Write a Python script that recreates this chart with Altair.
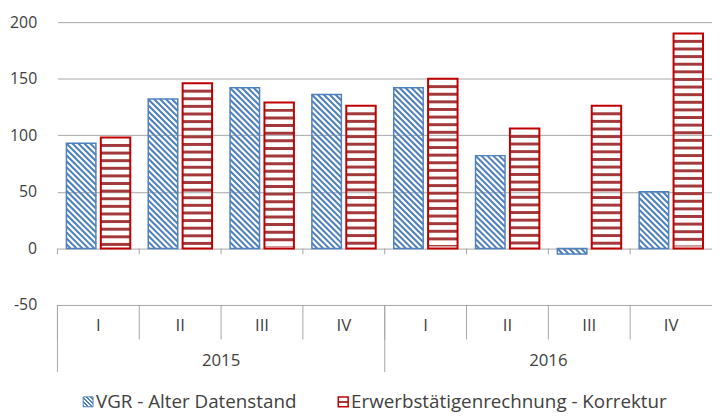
import altair as alt
import pandas as pd

# ---- data ----
quarters = ["I", "II", "III", "IV", "I", "II", "III", "IV"]
years = ["2015", "2016"]
vgr = [93, 132, 142, 136, 142, 82, -5, 50]
erw = [98, 146, 129, 126, 150, 106, 126, 190]
y_ticks = [-50, 0, 50, 100, 150, 200]
legend_labels = ["VGR - Alter Datenstand", "Erwerbstätigenrechnung - Korrektur"]

# ---- layout constants ----
W = 662
H = 286
KX = W / 8.0
KY = H / 250.0
FONT = "Open Sans"
TXT = "#404040"
GRID = "#a6a6a6"
BLUE = "#4f81bd"
RED = "#c00000"
DARKRED = "#a3393b"
BW = 0.36 * KX

bars = pd.DataFrame({"idx": list(range(8)), "q": quarters, "vgr": vgr, "erw": erw})
bounds = pd.DataFrame({"b": list(range(8))})
ybounds = pd.DataFrame({"b": [0, 4]})
yrs = pd.DataFrame({"year": years, "pos": [2, 6]})

xs = alt.Scale(domain=[0, 8], nice=False, zero=False)
ys = alt.Scale(domain=[-50, 200], nice=False, zero=False)
YAX = alt.Axis(
    values=y_ticks, grid=True, gridColor=GRID, gridWidth=1,
    domain=False, ticks=False, labelPadding=21, title=None,
    labelFont=FONT, labelFontSize=16, labelColor=TXT,
    labelExpr="'' + datum.value",
)


def xenc(f):
    return alt.X(f, type="quantitative", scale=xs, axis=None)


def yenc(f):
    return alt.Y(f, type="quantitative", scale=ys, axis=YAX)


base = alt.Chart(bars)

# blue diagonal stripes
blue_str = (
    base.transform_calculate(
        x0="datum.idx + 0.11",
        top="max(datum.vgr, 0)",
        hp=f"abs(datum.vgr) * {KY}",
        c=f"sequence({-BW}, abs(datum.vgr) * {KY}, 6)",
    )
    .transform_flatten(["c"])
    .transform_calculate(ua="max(0, -datum.c)", ub=f"min({BW}, datum.hp - datum.c)")
    .transform_filter("datum.ub > datum.ua")
    .transform_calculate(
        sx=f"datum.x0 + datum.ua / {KX}",
        sx2=f"datum.x0 + datum.ub / {KX}",
        sy=f"datum.top - (datum.ua + datum.c) / {KY}",
        sy2=f"datum.top - (datum.ub + datum.c) / {KY}",
    )
    .mark_rule(stroke=BLUE, strokeWidth=2.1)
    .encode(x=xenc("sx"), x2="sx2:Q", y=yenc("sy"), y2="sy2:Q")
)

blue_out = (
    base.transform_calculate(
        x0="datum.idx + 0.11", x1="datum.idx + 0.47",
        top="max(datum.vgr, 0)", bot="min(datum.vgr, 0)",
    )
    .mark_rect(fillOpacity=0, stroke=BLUE, strokeWidth=1.5)
    .encode(x=xenc("x0"), x2="x1:Q", y=yenc("top"), y2="bot:Q")
)

# red horizontal stripes
red_str = (
    base.transform_calculate(
        x0="datum.idx + 0.53", x1="datum.idx + 0.89",
        top="max(datum.erw, 0)",
        hp=f"abs(datum.erw) * {KY}",
        s=f"sequence(6.5, abs(datum.erw) * {KY} - 2, 7.7)",
    )
    .transform_flatten(["s"])
    .transform_calculate(
        sy=f"datum.top - datum.s / {KY}",
        sy2=f"datum.top - min(datum.s + 3, datum.hp - 2) / {KY}",
    )
    .mark_rect(color=DARKRED)
    .encode(x=xenc("x0"), x2="x1:Q", y=yenc("sy"), y2="sy2:Q")
)

red_out = (
    base.transform_calculate(
        x0="datum.idx + 0.53", x1="datum.idx + 0.89",
        top="max(datum.erw, 0)", bot="min(datum.erw, 0)",
    )
    .mark_rect(fillOpacity=0, stroke=RED, strokeWidth=2)
    .encode(x=xenc("x0"), x2="x1:Q", y=yenc("top"), y2="bot:Q")
)

# ticks on the zero line
zero_ticks = (
    alt.Chart(bounds)
    .transform_calculate(z0="0", z1=f"-6 / {KY}")
    .mark_rule(stroke=GRID, strokeWidth=1)
    .encode(x=xenc("b"), y=yenc("z0"), y2="z1:Q")
)

# category table lines
q_lines = (
    alt.Chart(bounds)
    .mark_rule(stroke=GRID, strokeWidth=1)
    .encode(x=xenc("b"), y=alt.value(H), y2=alt.value(H + 35))
)
y_lines = (
    alt.Chart(ybounds)
    .mark_rule(stroke=GRID, strokeWidth=1)
    .encode(x=xenc("b"), y=alt.value(H), y2=alt.value(H + 68))
)

q_text = (
    base.transform_calculate(pos="datum.idx + 0.5")
    .mark_text(font=FONT, fontSize=17, color=TXT, baseline="middle", align="center")
    .encode(x=xenc("pos"), y=alt.value(H + 21), text="q:N")
)
y_text = (
    alt.Chart(yrs)
    .mark_text(font=FONT, fontSize=17, color=TXT, baseline="middle", align="center")
    .encode(x=xenc("pos"), y=alt.value(H + 57), text="year:N")
)

# legend
blue_stops = []
n = 5
for i in range(n):
    a = i / n
    b = (i + 0.5) / n
    c = (i + 1) / n
    blue_stops += [
        alt.GradientStop(color=BLUE, offset=a),
        alt.GradientStop(color=BLUE, offset=b),
        alt.GradientStop(color="white", offset=b),
        alt.GradientStop(color="white", offset=c),
    ]
blue_grad = alt.LinearGradient(gradient="linear", x1=0, y1=1, x2=1, y2=0, stops=blue_stops)
red_grad = alt.LinearGradient(
    gradient="linear", x1=0, y1=0, x2=0, y2=1,
    stops=[
        alt.GradientStop(color="white", offset=0),
        alt.GradientStop(color="white", offset=0.38),
        alt.GradientStop(color=DARKRED, offset=0.38),
        alt.GradientStop(color=DARKRED, offset=0.62),
        alt.GradientStop(color="white", offset=0.62),
        alt.GradientStop(color="white", offset=1),
    ],
)

LY = H + 98
leg_df = pd.DataFrame({"label": legend_labels, "k": [0, 1]})
leg_blue_sym = (
    alt.Chart(leg_df).transform_filter("datum.k == 0")
    .mark_rect(fill=blue_grad, stroke=BLUE, strokeWidth=1)
    .encode(x=alt.value(26), x2=alt.value(36), y=alt.value(LY - 5), y2=alt.value(LY + 5))
)
leg_red_sym = (
    alt.Chart(leg_df).transform_filter("datum.k == 1")
    .mark_rect(fill=red_grad, stroke=RED, strokeWidth=1.5)
    .encode(x=alt.value(284), x2=alt.value(294), y=alt.value(LY - 5), y2=alt.value(LY + 5))
)
leg_blue_txt = (
    alt.Chart(leg_df).transform_filter("datum.k == 0")
    .mark_text(font=FONT, fontSize=19, color=TXT, baseline="middle", align="left")
    .encode(x=alt.value(39), y=alt.value(LY), text="label:N")
)
leg_red_txt = (
    alt.Chart(leg_df).transform_filter("datum.k == 1")
    .mark_text(font=FONT, fontSize=19, color=TXT, baseline="middle", align="left")
    .encode(x=alt.value(297), y=alt.value(LY), text="label:N")
)

chart = (
    alt.layer(
        zero_ticks, q_lines, y_lines,
        blue_str, blue_out, red_str, red_out,
        q_text, y_text,
        leg_blue_sym, leg_red_sym, leg_blue_txt, leg_red_txt,
    )
    .properties(
        width=W, height=H,
        autosize=alt.AutoSizeParams(type="none"),
        padding={"left": 50, "top": 12, "right": 0, "bottom": 110},
    )
    .configure_view(stroke=None)
)

chart.save("out.html", embed_options={"renderer": "svg", "actions": False})
